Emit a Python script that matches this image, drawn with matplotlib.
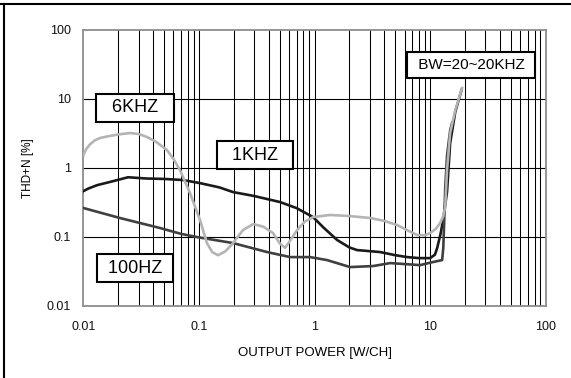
import matplotlib
matplotlib.use("Agg")
import matplotlib.pyplot as plt
from matplotlib.lines import Line2D

plt.rcParams['font.family'] = ['Liberation Sans', 'DejaVu Sans']

"""THD+N versus output power, one curve per test frequency"""
p_6k = [0.01, 0.0105, 0.0114, 0.0125, 0.0139, 0.016, 0.02, 0.0253, 0.03, 0.0355,
        0.043, 0.0528, 0.06, 0.0684, 0.0835, 0.102, 0.117, 0.13, 0.146, 0.17,
        0.197, 0.24, 0.294, 0.36, 0.437, 0.5, 0.556, 0.62, 0.705, 0.82, 0.97,
        1.36, 2.0, 3.03, 4.0, 5.18, 6.3, 7.71, 9.0, 10.0, 11.2, 12.2, 13.0,
        13.5, 14.0, 14.9, 16.5, 18.9]
thd_6k = [1.54, 1.85, 2.2, 2.5, 2.71, 2.85, 3.05, 3.2, 3.1, 2.8,
          2.35, 1.81, 1.35, 0.93, 0.43, 0.175, 0.081, 0.06, 0.054, 0.062,
          0.081, 0.125, 0.153, 0.14, 0.113, 0.08, 0.069, 0.09, 0.125, 0.165, 0.193,
          0.207, 0.20, 0.187, 0.17, 0.148, 0.125, 0.106, 0.105, 0.113, 0.13, 0.158, 0.2,
          0.27, 0.93, 3.2, 6.9, 14.4]

p_1k = [0.01, 0.011, 0.0131, 0.018, 0.0243, 0.035, 0.05, 0.0727, 0.102, 0.15,
        0.197, 0.3, 0.502, 0.7, 0.97, 1.2, 1.57, 2.0, 2.33, 3.69, 5.0, 6.32,
        8.0, 10.0, 11.0, 11.5, 12.3, 12.96, 14.0, 14.9, 16.5, 18.7]
thd_1k = [0.46, 0.5, 0.56, 0.64, 0.73, 0.70, 0.69, 0.665, 0.60, 0.52,
          0.445, 0.39, 0.319, 0.26, 0.193, 0.135, 0.0895, 0.07, 0.0641, 0.060, 0.054, 0.0507,
          0.049, 0.049, 0.055, 0.0686, 0.11, 0.175, 0.45, 2.29, 6.5, 13.5]

p_100 = [0.01, 0.0207, 0.0459, 0.07, 0.096, 0.197, 0.388, 0.614, 0.914, 1.28,
         2.03, 3.21, 4.51, 8.19, 10.6, 12.7, 13.0, 13.2, 13.5, 14.0, 14.9, 15.5]
thd_100 = [0.261, 0.187, 0.134, 0.11, 0.099, 0.081, 0.060, 0.0507, 0.0507, 0.0459,
           0.0363, 0.0376, 0.0415, 0.0388, 0.043, 0.0459, 0.07, 0.15, 0.5, 1.5, 3.5, 4.5]

x_ticks = [0.01, 0.1, 1, 10, 100]
x_labels = ['0.01', '0.1', '1', '10', '100']
y_ticks = [0.01, 0.1, 1, 10, 100]
y_labels = ['0.01', '0.1', '1', '10', '100']

fig = plt.figure(figsize=(5.71, 3.78), dpi=100)
ax = fig.add_axes([0.1462, 0.1913, 0.8095, 0.7294])
ax.set_xscale('log')
ax.set_yscale('log')
ax.set_xlim(0.01, 100)
ax.set_ylim(0.01, 100)

# dense vertical grid (1..9 per decade), horizontal grid only on decades
for dec in [0.01, 0.1, 1, 10]:
    for k in range(1, 10):
        xv = dec * k
        if xv <= 0.01:
            continue
        ax.axvline(xv, color='black', lw=0.75, zorder=1)
for yv in [0.1, 1, 10]:
    ax.axhline(yv, color='black', lw=0.8, zorder=1)

ax.plot(p_1k, thd_1k, color='#1a1a1a', lw=1.9, zorder=3)
ax.plot(p_100, thd_100, color='#404040', lw=1.9, zorder=3)
ax.plot(p_6k, thd_6k, color='#b4b4b4', lw=1.9, zorder=4)

ax.set_xticks(x_ticks)
ax.set_xticklabels(x_labels)
ax.set_yticks(y_ticks)
ax.set_yticklabels(y_labels)
ax.minorticks_off()
ax.tick_params(length=0, labelsize=9, colors='#111111')
ax.tick_params(axis='y', pad=9)
ax.tick_params(axis='x', pad=11)
for s in ax.spines.values():
    s.set_color('#8c8c8c')
    s.set_linewidth(1.3)

box = dict(boxstyle='square,pad=0.3', fc='white', ec='black', lw=1.5)
ax.text(0.0279, 7.4, '  6KHZ  ', fontsize=13, ha='center', va='center', bbox=box, zorder=6)
ax.text(0.305, 1.53, '  1KHZ  ', fontsize=13, ha='center', va='center', bbox=box, zorder=6)
ax.text(0.0279, 0.0352, ' 100HZ ', fontsize=13, ha='center', va='center', bbox=box, zorder=6)
ax.text(22.6, 31, ' BW=20~20KHZ ', fontsize=11, ha='center', va='center',
        bbox=dict(boxstyle='square,pad=0.4', fc='white', ec='black', lw=1.5), zorder=6)

fig.text(314.6 / 571, 1 - 352.7 / 378, 'OUTPUT POWER [W/CH]', fontsize=9.5,
         ha='center', va='center')
fig.text(28 / 571, 1 - 168 / 378, 'THD+N [%]', fontsize=8.5, rotation=90,
         ha='center', va='center')

# frame lines along top and left edge
fig.add_artist(Line2D([0, 1], [1 - 3.5 / 378] * 2, transform=fig.transFigure,
                      color='black', lw=1.5))
fig.add_artist(Line2D([3.5 / 571] * 2, [0, 1 - 3.5 / 378], transform=fig.transFigure,
                      color='black', lw=1.5))

fig.savefig('out.png', dpi=100)
